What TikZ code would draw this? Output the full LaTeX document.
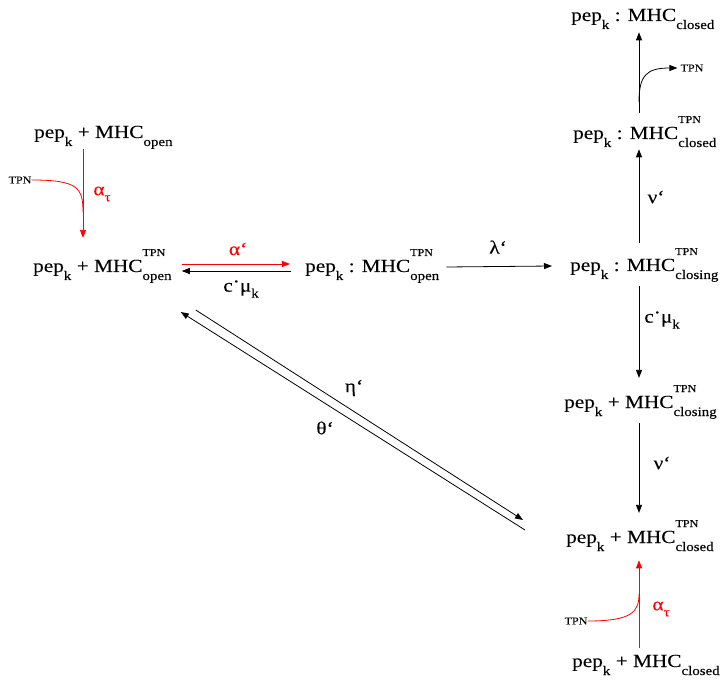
\documentclass[tikz,border=0pt]{standalone}
\usepackage{fontspec}
\setmainfont{Liberation Serif}[FakeStretch=1.15,FakeBold=0.12]
\usetikzlibrary{arrows.meta}

% type sizes
\newcommand\mainsz{\fontsize{18.5}{22}\selectfont}
\newcommand\subsz{\fontsize{13}{16}\selectfont}
\newcommand\tpnsz{\fontsize{10.5}{12}\selectfont}
% lowered index, and stacked upper/lower index
\newcommand\spLow[1]{\raisebox{-8pt}{\subsz #1}}
\newcommand\spHiLo[2]{\rlap{\raisebox{16pt}{\tpnsz #1}}\raisebox{-8pt}{\subsz #2}}
\newcommand\rateLow[1]{\raisebox{-6pt}{\subsz #1}}
\newcommand\cdotmu{c\raisebox{4pt}{·}μ}

\tikzset{
  species/.style={font=\mainsz, inner sep=0pt, anchor=base west},
  rate/.style={font=\mainsz, inner sep=0pt},
  tpnlabel/.style={font=\tpnsz, inner sep=0pt},
  arr/.style={line width=0.8pt, -{Triangle[length=8pt,width=6pt]}},
  redarr/.style={arr, red},
}

\begin{document}
\begin{tikzpicture}[x=1pt,y=-1pt]
\useasboundingbox (0,0) rectangle (722,684);

% arrow columns
\coordinate (colL) at (83,0);
\coordinate (colR) at (639,0);

% species
\node[species] (A) at (34,138) {pep\spLow{k} + MHC\spLow{open}};
\node[species] (B) at (33,272) {pep\spLow{k} + MHC\spHiLo{TPN}{open}};
\node[species] (C) at (305,272) {pep\spLow{k} : MHC\spHiLo{TPN}{open}};
\node[species] (D) at (570,271) {pep\spLow{k} : MHC\spHiLo{TPN}{closing}};
\node[species] (E) at (573,139) {pep\spLow{k} : MHC\spHiLo{TPN}{closed}};
\node[species] (F) at (571,21) {pep\spLow{k} : MHC\spLow{closed}};
\node[species] (G) at (564,408) {pep\spLow{k} + MHC\spHiLo{TPN}{closing}};
\node[species] (H) at (566,543) {pep\spLow{k} + MHC\spHiLo{TPN}{closed}};
\node[species] (I) at (572,667) {pep\spLow{k} + MHC\spLow{closed}};

% free TPN
\node[tpnlabel] (tpnA) at (20,180) {TPN};
\node[tpnlabel] (tpnE) at (692,68) {TPN};
\node[tpnlabel] (tpnI) at (576,621) {TPN};
\coordinate (jA) at (83,212);
\coordinate (jE) at (639,102);
\coordinate (jI) at (639,594);

% rate labels
\node[rate, red] (la1) at (102,194) {α\rateLow{τ}};
\node[rate, red] (la2) at (238,249) {α‘};
\node[rate] (lcm1) at (241,289) {\cdotmu\rateLow{k}};
\node[rate] (llam) at (498,247) {λ‘};
\node[rate] (lnu1) at (656,197) {ν‘};
\node[rate] (lcm2) at (662,320) {\cdotmu\rateLow{k}};
\node[rate] (lnu2) at (662,463) {ν‘};
\node[rate] (leta) at (354,388) {η‘};
\node[rate] (ltheta) at (325,428) {θ‘};
\node[rate, red] (la3) at (661,609) {α\rateLow{τ}};

% TPN binding to the open form
\draw[redarr, shorten >=11pt] (A.south -| colL) -- (B.north -| colL);
\draw[red, line width=0.8pt] (tpnA.east) .. controls (78,180) and (83,188) .. (jA);

% binding / unbinding of the peptide
\draw[redarr] ([xshift=10pt,yshift=8pt]B.base east) -- ([xshift=-15pt,yshift=8pt]C.base west);
\draw[arr] ([xshift=-14pt,yshift=1pt]C.base west) -- ([xshift=10pt,yshift=1pt]B.base east);

% closing
\draw[arr] ([xshift=7pt,yshift=5pt]C.base east) -- ([xshift=-18pt,yshift=5pt]D.base west);

% closed complex and TPN release
\draw[arr, shorten <=5pt, shorten >=2pt] (D.north -| colR) -- (E.south -| colR);
\draw[arr, shorten <=3pt, shorten >=3pt] (E.north -| colR) -- (F.south -| colR);
\draw[arr, shorten >=3pt] (jE) .. controls (639,76) and (646,68) .. (tpnE.west);

% unbinding from the closing form
\draw[arr, shorten <=4pt, shorten >=7pt] (D.south -| colR) -- (G.north -| colR);
\draw[arr, shorten <=4pt, shorten >=7pt] (G.south -| colR) -- (H.north -| colR);

% TPN binding to the closed form
\draw[redarr, shorten <=7pt, shorten >=9pt] (I.north -| colR) -- (H.south -| colR);
\draw[red, line width=0.8pt] (tpnI.east) .. controls (632,621) and (639,612) .. (jI);

% direct exchange between open and closed forms
\draw[arr] ([xshift=24pt,yshift=-38pt]B.base east) -- ([xshift=-43pt,yshift=23pt]H.base west);
\draw[arr] ([xshift=-41pt,yshift=13pt]H.base west) -- ([xshift=9pt,yshift=-40pt]B.base east);
\end{tikzpicture}
\end{document}
